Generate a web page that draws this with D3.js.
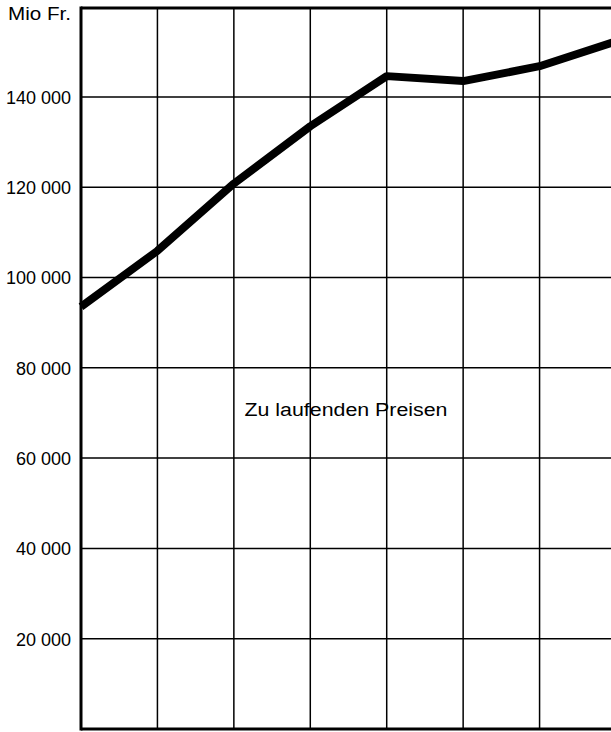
<!DOCTYPE html>
<html>
<head>
<meta charset="utf-8">
<script src="https://cdn.jsdelivr.net/npm/d3@7"></script>
<style>
  body { margin: 0; background: #fff; }
  svg { display: block; }
  text { font-family: "Liberation Sans", Arial, sans-serif; fill: #000; }
</style>
</head>
<body>
<div id="chart"></div>
<script>
// Werte in Mio Fr., zu laufenden Preisen
var periods = ["1", "2", "3", "4", "5", "6", "7", "8"];
var values = [93500, 105900, 120800, 133500, 144600, 143500, 146800, 152300];
var yTicks = [20000, 40000, 60000, 80000, 100000, 120000, 140000];
var unitLabel = "Mio Fr.";
var seriesLabel = "Zu laufenden Preisen";

var width = 611, height = 732;
var plotLeft = 81, plotTop = 8, plotBottom = 729, plotRight = 616;
var fontStack = "\"Liberation Sans\", Arial, sans-serif";

var svg = d3.select("#chart")
    .append("svg")
    .attr("width", width)
    .attr("height", height);

var x = d3.scalePoint()
    .domain(periods)
    .range([plotLeft, plotRight]);

var y = d3.scaleLinear()
    .domain([0, 20000 * (plotBottom - plotTop) / 90.3])
    .range([plotBottom, plotTop]);

var fmt = function (d) {
    return d3.format(",")(d).replace(/,/g, " ");
};

//gridlines
var grid = svg.append("g").attr("class", "grid");
grid.selectAll("line.h")
    .data(yTicks)
    .enter()
    .append("line")
    .attr("class", "h")
    .attr("x1", plotLeft)
    .attr("x2", width)
    .attr("y1", function (d) { return y(d); })
    .attr("y2", function (d) { return y(d); })
    .attr("stroke", "#000")
    .attr("stroke-width", 1.5);

grid.selectAll("line.v")
    .data(periods.slice(1))
    .enter()
    .append("line")
    .attr("class", "v")
    .attr("x1", function (d) { return x(d); })
    .attr("x2", function (d) { return x(d); })
    .attr("y1", plotTop)
    .attr("y2", plotBottom)
    .attr("stroke", "#000")
    .attr("stroke-width", 1.5);

//frame: left axis, top and bottom
svg.append("line")
    .attr("x1", plotLeft).attr("x2", plotLeft)
    .attr("y1", plotTop - 1.5).attr("y2", plotBottom + 1.5)
    .attr("stroke", "#000").attr("stroke-width", 3);
svg.append("line")
    .attr("x1", plotLeft).attr("x2", width)
    .attr("y1", plotTop).attr("y2", plotTop)
    .attr("stroke", "#000").attr("stroke-width", 3);
svg.append("line")
    .attr("x1", plotLeft).attr("x2", width)
    .attr("y1", plotBottom).attr("y2", plotBottom)
    .attr("stroke", "#000").attr("stroke-width", 3);

//y axis labels
var yAxis = d3.axisLeft(y)
    .tickValues(yTicks)
    .tickSize(0)
    .tickPadding(10)
    .tickFormat(fmt);
var ya = svg.append("g")
    .attr("transform", "translate(" + plotLeft + ",0)")
    .call(yAxis);
ya.select(".domain").remove();
ya.selectAll("text")
    .style("font-size", "18px")
    .style("font-family", fontStack)
    .attr("dy", "0.36em");

svg.append("text")
    .attr("x", plotLeft - 10)
    .attr("y", 20)
    .attr("text-anchor", "end")
    .attr("textLength", 63)
    .attr("lengthAdjust", "spacingAndGlyphs")
    .style("font-size", "18px")
    .text(unitLabel);

//the series line
var line = d3.line()
    .x(function (d, i) { return x(periods[i]); })
    .y(function (d) { return y(d); });

svg.append("path")
    .datum(values)
    .attr("d", line)
    .attr("fill", "none")
    .attr("stroke", "#000")
    .attr("stroke-width", 8)
    .attr("stroke-linejoin", "round");

svg.append("text")
    .attr("x", 346)
    .attr("y", 416)
    .attr("text-anchor", "middle")
    .attr("textLength", 203)
    .attr("lengthAdjust", "spacingAndGlyphs")
    .style("font-size", "18px")
    .text(seriesLabel);
</script>
</body>
</html>
